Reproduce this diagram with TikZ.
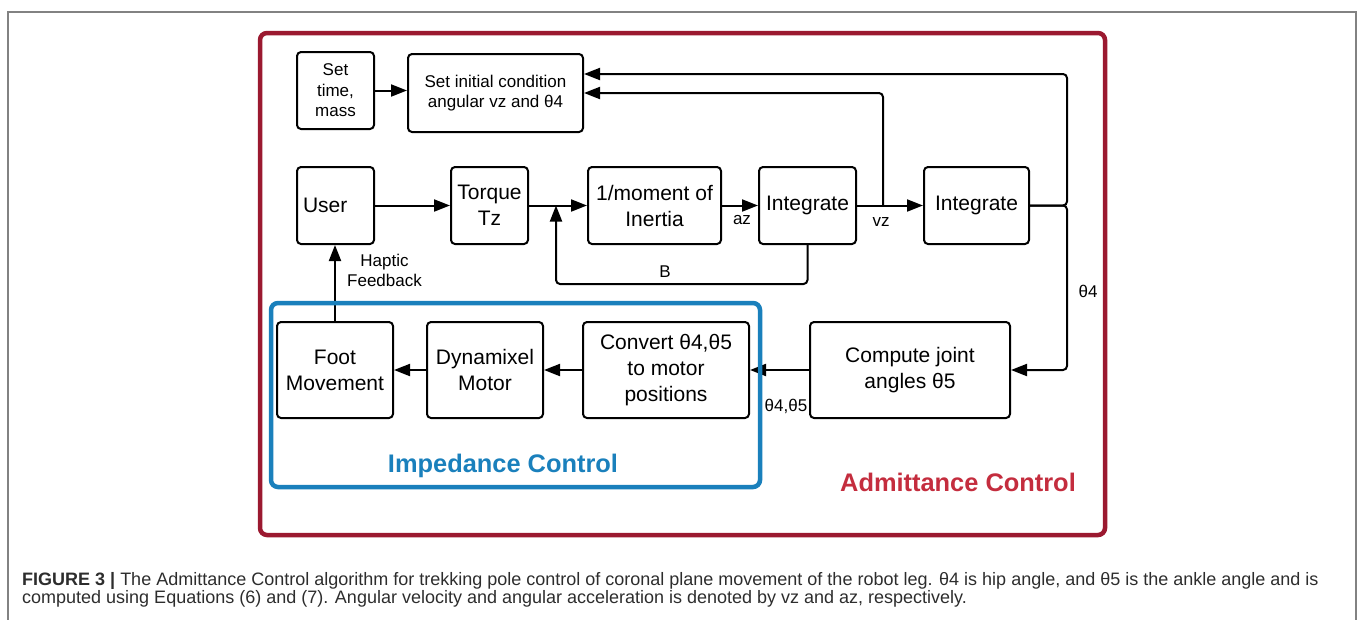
\documentclass[tikz,border=0pt]{standalone}
\usepackage{fontspec}
\setmainfont{Liberation Sans}
\usetikzlibrary{arrows.meta}
\definecolor{admred}{RGB}{155,25,48}
\definecolor{admtext}{RGB}{196,45,62}
\definecolor{impblue}{RGB}{26,128,188}
\definecolor{capgray}{RGB}{45,45,45}
\definecolor{framegray}{RGB}{130,130,130}
\begin{document}
\begin{tikzpicture}[x=1pt,y=-1pt,
  blk/.style={draw, line width=2pt, rounded corners=4pt, align=center, inner sep=0pt,
    font=\fontsize{21}{26}\selectfont},
  blks/.style={blk, font=\fontsize{17}{20.5}\selectfont},
  conn/.style={line width=2pt, -{Triangle[length=16pt,width=12pt]}, rounded corners=4pt},
  lbl/.style={font=\fontsize{17}{20}\selectfont, inner sep=0pt, align=center},
  frm/.style={line width=4.5pt, rounded corners=7pt},
  bigtitle/.style={font=\fontsize{25.4}{30}\selectfont\bfseries, inner sep=0pt},
  capt/.style={font=\fontsize{18}{20}\selectfont, inner sep=0pt, text=capgray, anchor=base west}]
\useasboundingbox (0,0) rectangle (1360,619);
\draw[framegray, line width=1.5pt] (8,625) -- (8,12) -- (1356,12) -- (1356,625);

% admittance frame
\draw[frm, admred] (260,33) rectangle (1105,535);

% blocks
\node[blks, minimum width=77pt, minimum height=77pt] (settime) at (335.5,90.5) {Set\\time,\\mass};
\node[blks, minimum width=175pt, minimum height=78pt] (setinit) at (495.5,93) {Set initial condition\\angular vz and θ4};
\node[blk, minimum width=77pt, minimum height=77pt, text width=65pt, inner xsep=6pt, align=left] (user) at (335.5,205.5) {User};
\node[blk, minimum width=77pt, minimum height=77pt] (torque) at (489.5,205.5) {Torque\\Tz};
\node[blk, minimum width=133pt, minimum height=77pt] (moment) at (654.5,205.5) {1/moment of\\Inertia};
\node[blk, minimum width=97pt, minimum height=77pt] (int1) at (807.5,205.5) {Integrate};
\node[blk, minimum width=105pt, minimum height=77pt] (int2) at (976.5,205.5) {Integrate};
\node[blk, minimum width=200pt, minimum height=96pt] (compute) at (910,370) {Compute joint\\angles θ5};
\node[blk, minimum width=166pt, minimum height=96pt] (convert) at (666,370) {Convert θ4,θ5\\to motor\\positions};
\node[blk, minimum width=116pt, minimum height=96pt] (dyn) at (485,370) {Dynamixel\\Motor};
\node[blk, minimum width=116pt, minimum height=96pt] (foot) at (335,370) {Foot\\Movement};

% junction coordinates
\coordinate (bj) at (556,205.5);
\coordinate (vzj) at (883,205.5);
\coordinate (t4) at (1067,205.5);

% connectors
\draw[conn] (settime.east) -- (settime.east -| setinit.west);
\draw[conn] (user) -- (torque);
\draw[conn] (torque) -- (moment);
\draw[conn] (moment) -- (int1);
\draw[conn] (int1) -- (int2);
\draw[conn] (int1.south) -- ++(0,39) -| (bj);
\draw[conn] (vzj) |- (setinit.east);
\draw[conn] (int2.east) -- (t4) |- ([yshift=19pt]setinit.east);
\draw[conn] (int2.east) -- (t4) |- (compute.east);
\draw[conn] (compute) -- (convert);
\draw[conn] (convert) -- (dyn);
\draw[conn] (dyn) -- (foot);
\draw[conn] (foot.north) -- (foot.north |- user.south);

% labels
\node[lbl] (haptic) at (384.5,270) {Haptic\\Feedback};
\node[lbl] (lblB) at (665,272) {B};
\node[lbl] (lblaz) at (742,220) {az};
\node[lbl] (lblvz) at (881,222) {vz};
\node[lbl] (lblt4) at (1088,291) {θ4};
\node[lbl] (lblt45) at (786,406) {θ4,θ5};

% impedance frame
\draw[frm, impblue] (271,303) rectangle (760,487);
\node[bigtitle, text=impblue] (imptitle) at (503,466) {Impedance Control};
\node[bigtitle, text=admtext] (admtitle) at (958,482) {Admittance Control};

% caption
\node[capt] (cap1) at (22,585) {\textbf{FIGURE 3 |} The Admittance Control algorithm for trekking pole control of coronal plane movement of the robot leg. θ4 is hip angle, and θ5 is the ankle angle and is};
\node[capt] (cap2) at (22,603) {computed using Equations (6) and (7). Angular velocity and angular acceleration is denoted by vz and az, respectively.};
\end{tikzpicture}
\end{document}
